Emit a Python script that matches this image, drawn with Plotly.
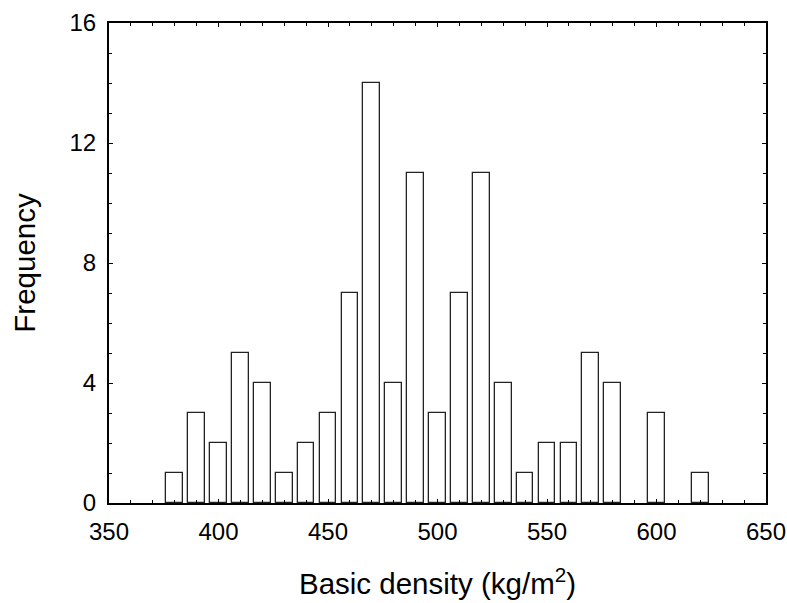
import plotly.graph_objects as go

density = [380, 390, 400, 410, 420, 430, 440, 450, 460, 470, 480, 490, 500,
           510, 520, 530, 540, 550, 560, 570, 580, 590, 600, 610, 620]
frequency = [1, 3, 2, 5, 4, 1, 2, 3, 7, 14, 4, 11, 3,
             7, 11, 4, 1, 2, 2, 5, 4, 0, 3, 0, 1]

xs = [d for d, f in zip(density, frequency) if f > 0]
ys = [f for f in frequency if f > 0]

fig = go.Figure()
fig.add_trace(go.Bar(
    x=xs, y=ys, width=7.6,
    marker=dict(color="white", line=dict(color="#222", width=1.3)),
    showlegend=False, hoverinfo="x+y",
))

font = "Liberation Sans, Arial, sans-serif"
fig.update_layout(
    width=787, height=603,
    margin=dict(l=109, r=21, t=23, b=100),
    paper_bgcolor="white", plot_bgcolor="white",
    font=dict(family=font, size=24, color="black"),
    bargap=0,
)
fig.update_xaxes(
    range=[350, 650], tickvals=[350, 400, 450, 500, 550, 600, 650],
    ticks="inside", ticklen=4, tickwidth=1, tickcolor="black",
    minor=dict(dtick=10, tick0=350, ticks="inside", ticklen=3, tickcolor="black"),
    showline=True, linecolor="black", linewidth=2, mirror="ticks",
    showgrid=False, zeroline=False, automargin=False,
    tickfont=dict(size=24), ticklabelstandoff=6,
    title=dict(text="Basic density (kg/m<sup>2</sup>)", font=dict(size=29.5), standoff=30),
)
fig.update_yaxes(
    range=[0, 16], tickvals=[0, 4, 8, 12, 16],
    ticks="inside", ticklen=4, tickwidth=1, tickcolor="black",
    minor=dict(dtick=1, tick0=0, ticks="inside", ticklen=3, tickcolor="black"),
    showline=True, linecolor="black", linewidth=2, mirror="ticks",
    showgrid=False, zeroline=False, automargin=False,
    tickfont=dict(size=24), ticklabelstandoff=6,
    title=dict(text="Frequency", font=dict(size=29.5), standoff=25),
)

fig.write_html(
    "out.html",
    config={"displayModeBar": False},
    post_script="document.body.style.margin='0';document.documentElement.style.overflow='hidden';",
)
